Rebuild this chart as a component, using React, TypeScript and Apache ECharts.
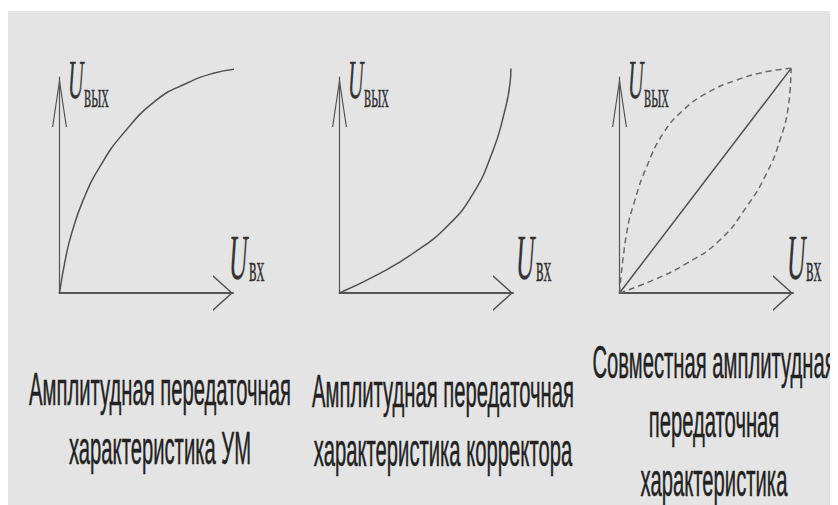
import React, { useEffect, useRef } from 'react';
import * as echarts from 'echarts';

// Normalised characteristics: [input, output] (0..1 = origin .. arrow tip)
const amplifierCurve = [[0, 0], [0.035, 0.16], [0.07, 0.276], [0.137, 0.431], [0.233, 0.585], [0.368, 0.739], [0.56, 0.894], [0.733, 0.971], [0.886, 1.017], [1.016, 1.037]];
const correctorCurve = [[0, 0], [0.233, 0.091], [0.425, 0.184], [0.618, 0.307], [0.771, 0.461], [0.886, 0.662], [0.944, 0.816], [0.983, 0.971], [0.988, 1.039]];
const combinedLine = [[0, 0], [0.989, 1.04]];
const combinedUpper = [[0, 0], [0.041, 0.276], [0.089, 0.431], [0.157, 0.585], [0.252, 0.739], [0.368, 0.847], [0.502, 0.925], [0.675, 0.986], [0.848, 1.025], [0.989, 1.04]];
const combinedLower = [[0, 0], [0.195, 0.06], [0.387, 0.137], [0.579, 0.245], [0.733, 0.4], [0.848, 0.554], [0.925, 0.708], [0.973, 0.863], [0.989, 1.04]];

const captions = [
  'Амплитудная передаточная\nхарактеристика УМ',
  'Амплитудная передаточная\nхарактеристика корректора',
  'Совместная амплитудная\nпередаточная\nхарактеристика',
];
const axisSymbol = 'U';
const ySub = 'вых';
const xSub = 'вх';

const BG = '#e4e4e4';
const AX = '#555555';

const Y_ARROW = 'path://M7.5,0L15,50L13.8,50L7.5,8L1.2,50L0,50Z';
const X_ARROW = 'path://M18,0L36,20L34,20L18,2.2L2,20L0,20Z';

export default function App() {
  const ref = useRef<HTMLDivElement>(null);
  useEffect(() => {
    if (!ref.current) return;
    const chart = echarts.init(ref.current, undefined, { renderer: 'svg' });
    const lefts = [51.5, 331.5, 611.5];
    const gTop = 69;
    const gW = 173.5;
    const gH = 216;

    const grids = lefts.map((l) => ({ left: l, top: gTop, width: gW, height: gH }));
    const xAxes = lefts.map((_, i) => ({
      type: 'value', gridIndex: i, min: 0, max: 1,
      axisLine: { show: true, symbol: ['none', X_ARROW], symbolSize: [36, 20], symbolOffset: [0, -10], lineStyle: { color: AX, width: 2 } },
      axisTick: { show: false }, axisLabel: { show: false }, splitLine: { show: false },
    }));
    const yAxes = lefts.map((_, i) => ({
      type: 'value', gridIndex: i, min: 0, max: 1,
      axisLine: { show: true, symbol: ['none', Y_ARROW], symbolSize: [15, 50], symbolOffset: [0, -25], lineStyle: { color: AX, width: 1.2 } },
      axisTick: { show: false }, axisLabel: { show: false }, splitLine: { show: false },
    }));

    const solid = (data: number[][], i: number, smooth: number | boolean = 0.5) => ({
      type: 'line', xAxisIndex: i, yAxisIndex: i, data, smooth, showSymbol: false, symbol: 'none', clip: false,
      lineStyle: { color: '#505050', width: 1.5 },
    });
    const dashed = (data: number[][], i: number) => ({
      type: 'line', xAxisIndex: i, yAxisIndex: i, data, smooth: 0.5, showSymbol: false, symbol: 'none', clip: false,
      lineStyle: { color: '#6a6a6a', width: 1.5, type: [6, 4] },
    });

    const graphic: any[] = [
      { type: 'rect', x: 0, y: 3, shape: { width: 830, height: 494 }, style: { fill: BG }, z: -100, silent: true },
    ];
    const uY = [60, 340, 620];
    const uX = [221, 508, 779];
    const subYX = [76, 356, 636];
    const subXX = [241, 528, 798];
    const serif = '"Liberation Serif", "Times New Roman", serif';
    const ink = { fill: '#333', stroke: '#333', lineWidth: 0.3 };
    for (let i = 0; i < 3; i++) {
      graphic.push({ type: 'text', x: uY[i], y: 90 - 0.3375 * 54, scaleX: 0.4, style: { text: axisSymbol, font: `italic 54px ${serif}`, verticalAlign: 'middle', align: 'left', ...ink } });
      graphic.push({ type: 'text', x: subYX[i], y: 99 - 0.3375 * 36, scaleX: 0.42, style: { text: ySub, font: `36px ${serif}`, verticalAlign: 'middle', align: 'left', ...ink } });
      graphic.push({ type: 'text', x: uX[i], y: 272 - 0.3375 * 64, scaleX: 0.4, style: { text: axisSymbol, font: `italic 64px ${serif}`, verticalAlign: 'middle', align: 'left', ...ink } });
      graphic.push({ type: 'text', x: subXX[i], y: 273 - 0.3375 * 38, scaleX: 0.42, style: { text: xSub, font: `38px ${serif}`, verticalAlign: 'middle', align: 'left', ...ink } });
    }
    const capX = [152, 435, 706];
    const capBase = [397, 399, 370];
    const fs = 46;
    const lh = 59;
    captions.forEach((c, i) => {
      graphic.push({
        type: 'text', x: capX[i], y: capBase[i] - lh / 2 - 0.3465 * fs, scaleX: 0.44,
        style: { text: c, font: `${fs}px "Liberation Sans", Arial, sans-serif`, fill: '#222', stroke: '#222', lineWidth: 0.5, align: 'center', verticalAlign: 'top', lineHeight: lh },
      });
    });

    chart.setOption({
      animation: false,
      backgroundColor: 'transparent',
      grid: grids,
      xAxis: xAxes,
      yAxis: yAxes,
      series: [
        solid(amplifierCurve, 0),
        solid(correctorCurve, 1),
        solid(combinedLine, 2, false),
        dashed(combinedUpper, 2),
        dashed(combinedLower, 2),
      ],
      graphic,
    } as any);
    return () => chart.dispose();
  }, []);
  return <div ref={ref} style={{ width: 830, height: 497 }} />;
}
